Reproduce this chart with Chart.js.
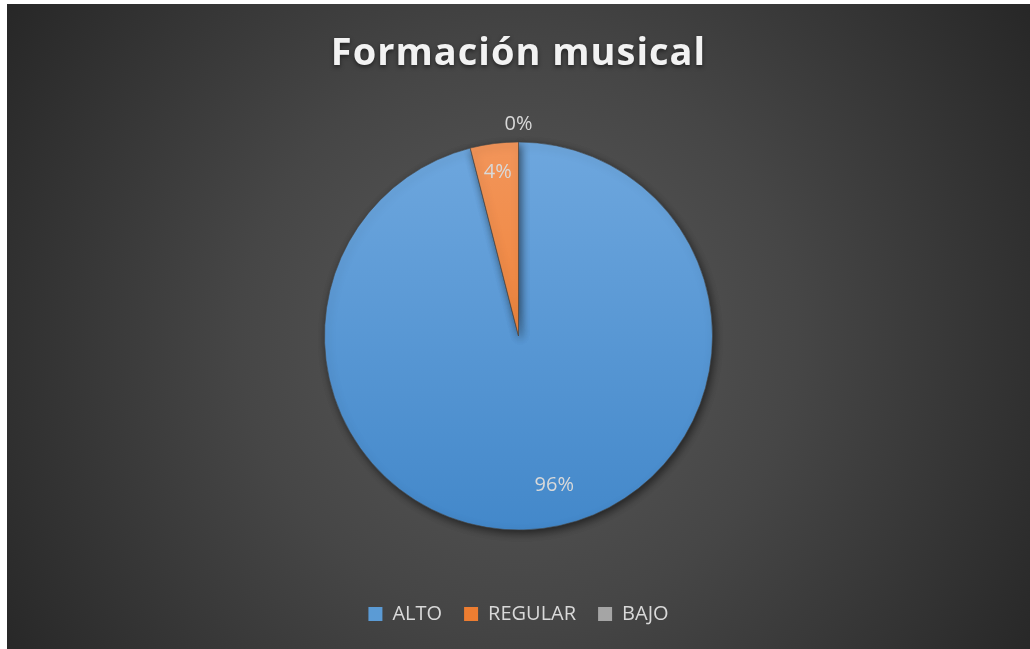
<!DOCTYPE html>
<html>
<head>
<meta charset="utf-8">
<script src="https://cdn.jsdelivr.net/npm/chart.js@4.4.1/dist/chart.umd.min.js"></script>
<style>
  html, body { margin: 0; padding: 0; background: #ffffff; }
  #marco { position: absolute; left: 7px; top: 4px; width: 1023px; height: 645px; }
</style>
</head>
<body>
<div id="marco"><canvas id="grafico"></canvas></div>
<script>
// Datos
const titulo = "Formación musical";
const categorias = ["ALTO", "REGULAR", "BAJO"];
const porcentajes = [96, 4, 0];

// Colores (arriba / abajo del degradado, y color plano para la leyenda)
const coloresArriba = ["#6ea7de", "#f2955a", "#b4b4b4"];
const coloresAbajo = ["#4388ca", "#ee7722", "#9a9a9a"];
const coloresLeyenda = ["#5b9bd5", "#ed7d31", "#a5a5a5"];

const RADIO = 194;
const FUENTE = "'Open Sans', 'DejaVu Sans', sans-serif";

function degradado(ctx, i) {
  const chart = ctx.chart;
  const area = chart.chartArea;
  if (!area) return coloresLeyenda[i];
  const cy = (area.top + area.bottom) / 2;
  const g = chart.ctx.createLinearGradient(0, cy - RADIO, 0, cy + RADIO);
  g.addColorStop(0, coloresArriba[i]);
  g.addColorStop(1, coloresAbajo[i]);
  return g;
}

// Fondo radial oscuro
const fondo = {
  id: "fondo",
  beforeDraw(chart) {
    const { ctx, width, height, chartArea } = chart;
    const cx = (chartArea.left + chartArea.right) / 2;
    const cy = (chartArea.top + chartArea.bottom) / 2;
    const g = ctx.createRadialGradient(cx, cy, 0, cx, cy, 620);
    g.addColorStop(0, "#5a5a5a");
    g.addColorStop(0.45, "#464646");
    g.addColorStop(1, "#262626");
    ctx.save();
    ctx.fillStyle = g;
    ctx.fillRect(0, 0, width, height);
    ctx.restore();
  }
};

// Sombra del pastel
const sombra = {
  id: "sombra",
  beforeDatasetsDraw(chart) {
    const ctx = chart.ctx;
    ctx.save();
    ctx.shadowColor = "rgba(0,0,0,0.55)";
    ctx.shadowBlur = 9;
    ctx.shadowOffsetX = 2;
    ctx.shadowOffsetY = 3;
  },
  afterDatasetsDraw(chart) {
    chart.ctx.restore();
  }
};

// Título con espaciado entre letras
const tituloEspaciado = {
  id: "tituloEspaciado",
  afterDraw(chart) {
    const ctx = chart.ctx;
    const cx = (chart.chartArea.left + chart.chartArea.right) / 2;
    ctx.save();
    ctx.font = "bold 38px " + FUENTE;
    ctx.letterSpacing = "1px";
    ctx.fillStyle = "#f2f2f2";
    ctx.textAlign = "center";
    ctx.textBaseline = "alphabetic";
    ctx.shadowColor = "rgba(0,0,0,0.5)";
    ctx.shadowBlur = 4;
    ctx.shadowOffsetY = 2;
    ctx.fillText(titulo, cx, 61);
    ctx.restore();
  }
};

// Etiquetas de porcentaje
const etiquetas = {
  id: "etiquetas",
  afterDatasetsDraw(chart) {
    const ctx = chart.ctx;
    const meta = chart.getDatasetMeta(0);
    ctx.save();
    ctx.font = "20px " + FUENTE;
    ctx.fillStyle = "#d9d9d9";
    ctx.textAlign = "center";
    ctx.textBaseline = "middle";
    meta.data.forEach((arc, i) => {
      const p = arc.getProps(["x", "y", "startAngle", "endAngle", "outerRadius"], true);
      let ang = (p.startAngle + p.endAngle) / 2;
      let d = p.outerRadius * 0.85;
      if (porcentajes[i] === 0) d = p.outerRadius + 18;
      if (porcentajes[i] > 50) { d = p.outerRadius * 0.79; ang -= 0.11; }
      ctx.fillText(porcentajes[i] + "%", p.x + Math.cos(ang) * d, p.y + Math.sin(ang) * d);
    });
    ctx.restore();
  }
};

new Chart(document.getElementById("grafico"), {
  type: "pie",
  data: {
    labels: categorias,
    datasets: [{
      data: porcentajes,
      backgroundColor: ctx => degradado(ctx, ctx.dataIndex),
      borderColor: "rgba(70,70,70,0.6)",
      borderWidth: 1
    }]
  },
  options: {
    responsive: true,
    maintainAspectRatio: false,
    animation: false,
    events: [],
    radius: RADIO,
    layout: { padding: { top: 86, bottom: 15 } },
    plugins: {
      title: { display: false },
      tooltip: { enabled: false },
      legend: {
        position: "bottom",
        labels: {
          color: "#d9d9d9",
          boxWidth: 14,
          boxHeight: 14,
          padding: 22,
          font: { size: 20, family: FUENTE },
          generateLabels(chart) {
            return categorias.map((c, i) => ({
              text: c,
              fillStyle: coloresLeyenda[i],
              strokeStyle: coloresLeyenda[i],
              lineWidth: 0,
              fontColor: "#d9d9d9",
              index: i
            }));
          }
        }
      }
    }
  },
  plugins: [fondo, sombra, etiquetas, tituloEspaciado]
});
</script>
</body>
</html>
